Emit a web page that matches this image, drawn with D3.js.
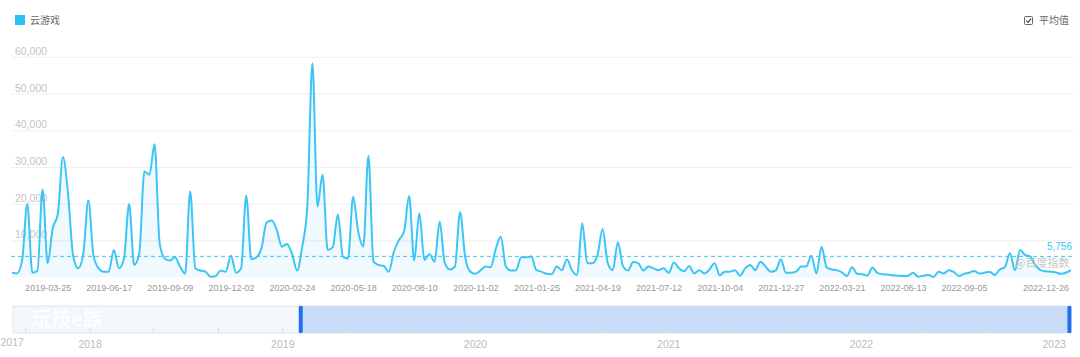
<!DOCTYPE html>
<html><head><meta charset="utf-8">
<script src="https://cdn.jsdelivr.net/npm/d3@7"></script>
<style>
body{margin:0;background:#fff}
svg{display:block;font-family:"Liberation Sans",Arial,"Noto Sans CJK SC",sans-serif}
</style>
</head><body>
<svg id="c" width="1080" height="357"></svg>
<script>
// ---------- data ----------
const seriesName = "云游戏";
const avgLabel = "平均值";
const startDate = "2019-02-04"; // weekly series start
const values = [
 1300,1100,4800,20000,1300,1800,24000,3900,13400,17300,
 32800,23000,6000,2500,6400,21000,6100,2500,1600,1600,
 7500,2500,5200,20000,3400,6600,28900,28000,36300,9300,
 5200,4600,5500,3000,1000,23400,2500,1900,1600,200,
 400,1900,1600,5900,1300,2500,22300,5000,5500,8000,
 15000,15500,13000,8400,9100,6400,1900,8400,19300,58400,
 19300,28000,7500,8200,17200,5700,5200,22000,12500,8400,
 33200,4300,3400,3200,1600,7000,10200,12500,22200,4600,
 17500,4800,6400,4300,15200,3900,2200,3000,17800,5700,
 1600,1000,1900,3000,2800,7700,11100,3000,1900,2000,
 5500,5500,5700,2000,1600,1000,900,3000,2000,5000,
 1900,700,14800,3900,3900,6100,13200,4000,2000,9600,
 3100,1900,4200,3900,1900,3000,2500,2000,2500,1300,
 4100,2500,1700,3100,1100,2000,1100,2200,3900,600,
 1600,1600,2000,500,2500,3400,2000,4300,3000,1600,
 1900,5000,1300,1300,1600,3000,3000,5900,1100,8400,
 2800,2200,2000,1400,400,2800,1000,900,500,2700,
 1200,900,800,600,500,400,500,1300,200,500,
 700,150,1600,1100,2000,1500,400,1000,1300,1800,
 1100,1300,1600,700,2200,2800,6600,2000,7500,6100,
 5700,3400,2000,1700,1600,1400,1000,1300,2000
];
const avgValue = 5756;
const avgText = "5,756";
const xTickLabels = ["2019-03-25","2019-06-17","2019-09-09","2019-12-02","2020-02-24","2020-05-18",
 "2020-08-10","2020-11-02","2021-01-25","2021-04-19","2021-07-12","2021-10-04","2021-12-27",
 "2022-03-21","2022-06-13","2022-09-05","2022-12-26"];
const yTicks = [10000,20000,30000,40000,50000,60000];
const sliderStart = "2017-08-08", sliderEnd = "2023-01-31";
const sliderMinLabel = "2017";
const watermark = "@百度指数";
const posterMark = "玩技e族";

// ---------- setup ----------
const svg = d3.select("#c");
const parse = d3.utcParse("%Y-%m-%d");
const fmt = d3.utcFormat("%Y-%m-%d");
const t0 = parse(startDate);
const data = values.map((v,i)=>({date:d3.utcDay.offset(t0,7*i), value:v}));

const x = d3.scaleUtc().domain([data[0].date, data[data.length-1].date]).range([12,1071]);
const y = d3.scaleLinear().domain([0,60000]).range([277.5,57.3]);
const lineColor = "#3cc5f5";

// grid
svg.append("g").selectAll("line").data(yTicks).join("line")
  .attr("x1",11).attr("x2",1073)
  .attr("y1",d=>y(d)).attr("y2",d=>y(d))
  .attr("stroke","#efefef").attr("stroke-width",1);

// area + line
const area = d3.area().x(d=>x(d.date)).y0(y(0)).y1(d=>y(d.value)).curve(d3.curveMonotoneX);
const line = d3.line().x(d=>x(d.date)).y(d=>y(d.value)).curve(d3.curveMonotoneX);
svg.append("path").datum(data).attr("d",area).attr("fill","rgba(60,197,245,0.08)");

// y labels (drawn over chart like reference)
svg.append("g").selectAll("text").data(yTicks).join("text")
  .attr("x",15).attr("y",d=>y(d)-2.5)
  .attr("font-size",10.5).attr("fill","#c4c4c4")
  .text(d=>d3.format(",")(d));

svg.append("path").datum(data).attr("d",line)
  .attr("fill","none").attr("stroke",lineColor).attr("stroke-width",2);

// average line
svg.append("line").attr("x1",11).attr("x2",1073)
  .attr("y1",y(avgValue)).attr("y2",y(avgValue))
  .attr("stroke",lineColor).attr("stroke-width",1).attr("stroke-dasharray","4,3");
svg.append("text").attr("x",1072).attr("y",y(avgValue)-6)
  .attr("text-anchor","end").attr("font-size",10).attr("fill",lineColor).text(avgText);

// watermark
svg.append("text").attr("x",1015).attr("y",267)
  .attr("font-size",11).attr("fill","#bdbdbd").attr("opacity",0.85)
  .attr("font-family","'Noto Sans CJK SC',sans-serif").text(watermark);

// x axis
const xAxis = d3.axisBottom(x).tickValues(xTickLabels.map(parse))
  .tickFormat(fmt).tickSize(0).tickPadding(7);
const gx = svg.append("g").attr("transform","translate(0,277.5)").call(xAxis);
gx.select(".domain").remove();
gx.selectAll("text").attr("font-size",9).attr("fill","#999")
  .attr("font-family","'Liberation Sans',Arial,sans-serif");

// legend
svg.append("rect").attr("x",15).attr("y",15).attr("width",10).attr("height",10).attr("fill","#29c2f4");
svg.append("text").attr("x",30).attr("y",23.5).attr("font-size",10).attr("fill","#666")
  .attr("font-family","'Noto Sans CJK SC',sans-serif").text(seriesName);

// checkbox
svg.append("rect").attr("x",1024.5).attr("y",16.5).attr("width",8).attr("height",8)
  .attr("fill","#fff").attr("stroke","#666").attr("rx",1);
svg.append("path").attr("d","M1026.3,20.6 L1028.1,22.4 L1031,18.6")
  .attr("fill","none").attr("stroke","#444").attr("stroke-width",1.2);
svg.append("text").attr("x",1039).attr("y",24).attr("font-size",10).attr("fill","#666")
  .attr("font-family","'Noto Sans CJK SC',sans-serif").text(avgLabel);

// ---------- slider ----------
const xs = d3.scaleUtc().domain([parse(sliderStart), parse(sliderEnd)]).range([13,1070]);
const sy = 306, sh = 27;
svg.append("rect").attr("x",13).attr("y",sy).attr("width",1057).attr("height",sh)
  .attr("fill","#f3f7fd").attr("stroke","#e2e6ec").attr("stroke-width",1);
const xa = xs(data[0].date), xb = xs(data[data.length-1].date);
svg.append("rect").attr("x",xa).attr("y",sy).attr("width",xb-xa).attr("height",sh)
  .attr("fill","#c8dcf8");
svg.append("text").attr("x",31).attr("y",326).attr("font-size",20).attr("font-weight","bold")
  .attr("fill","#ffffff").attr("opacity",0.9)
  .attr("font-family","'Noto Sans CJK SC',sans-serif").text(posterMark);
const sTicks = xs.ticks(d3.utcMonth.every(4));
svg.append("g").selectAll("line").data(sTicks).join("line")
  .attr("x1",d=>xs(d)).attr("x2",d=>xs(d)).attr("y1",328.5).attr("y2",333)
  .attr("stroke","#d8dce2");
[xa,xb].forEach(px=>{
  svg.append("rect").attr("x",px-2).attr("y",sy).attr("width",4).attr("height",sh)
    .attr("fill","#1f6ff2").attr("rx",1);
});
const yearTicks = sTicks.filter(d=>d.getUTCMonth()===0);
svg.append("g").selectAll("text").data(yearTicks).join("text")
  .attr("x",d=>xs(d)).attr("y",348).attr("text-anchor","middle")
  .attr("font-size",10.5).attr("fill","#bbb").text(d=>d.getUTCFullYear());
svg.append("text").attr("x",0.5).attr("y",346).attr("text-anchor","start")
  .attr("font-size",10.5).attr("fill","#bbb").text(sliderMinLabel);
</script>
</body></html>
